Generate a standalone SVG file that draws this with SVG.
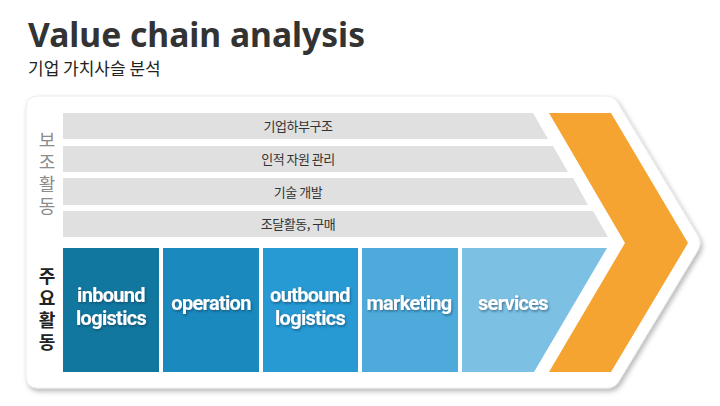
<svg xmlns="http://www.w3.org/2000/svg" width="720" height="406" viewBox="0 0 720 406">
<defs>
<filter id="sh" x="-10%" y="-10%" width="120%" height="130%">
<feDropShadow dx="2" dy="3" stdDeviation="2.5" flood-color="#000" flood-opacity="0.28"/>
</filter>
<filter id="ts" x="-10%" y="-20%" width="120%" height="150%">
<feDropShadow dx="1" dy="1.5" stdDeviation="1" flood-color="#0a3550" flood-opacity="0.55"/>
</filter>
<style>
.title{font-family:"Noto Sans","Open Sans",sans-serif;font-weight:700;fill:#333}
.sub{font-family:"Noto Sans CJK KR",sans-serif;fill:#222}
.bar{fill:#e0e0e0}
.bt{font-family:"Noto Sans CJK KR",sans-serif;font-size:13px;fill:#333;text-anchor:middle;letter-spacing:-0.5px}
.vg{font-family:"Noto Sans CJK KR",sans-serif;font-size:18px;fill:#8c8c8c;writing-mode:vertical-rl;letter-spacing:4px}
.vb{font-family:"Noto Sans CJK KR",sans-serif;font-size:18px;font-weight:700;fill:#222;writing-mode:vertical-rl;letter-spacing:4px}
.wt{font-family:Roboto,"Liberation Sans",sans-serif;font-weight:700;font-size:20px;fill:#fff;text-anchor:middle;letter-spacing:-0.7px}
</style>
</defs>
<rect width="720" height="406" fill="#fff"/>
<text class="title" x="28" y="47" font-size="34" textLength="337" lengthAdjust="spacingAndGlyphs">Value chain analysis</text>
<text class="sub" x="28" y="75" font-size="17">기업 가치사슬 분석</text>

<g id="frame">
<path d="M38,96 L606,96 Q614,96 618,103 L698,236 Q702,243 698,250 L619,381 Q615,388 607,388 L38,388 Q26,388 26,376 L26,108 Q26,96 38,96 Z" fill="#fff" stroke="#ececec" stroke-width="1" filter="url(#sh)"/>
</g>

<g id="support-label">
<text class="vg" x="47" y="131">보조활동</text>
</g>
<g id="primary-label">
<text class="vb" x="47" y="267">주요활동</text>
</g>

<g id="bar1"><polygon class="bar" points="63,113 533,113 548,139 63,139"/><text class="bt" x="298" y="131">기업하부구조</text></g>
<g id="bar2"><polygon class="bar" points="63,146 553,146 568,172 63,172"/><text class="bt" x="298" y="164">인적 자원 관리</text></g>
<g id="bar3"><polygon class="bar" points="63,178 573,178 588,205 63,205"/><text class="bt" x="298" y="197">기술 개발</text></g>
<g id="bar4"><polygon class="bar" points="63,211 593,211 608,237 63,237"/><text class="bt" x="298" y="229">조달활동, 구매</text></g>

<g id="margin"><polygon points="549,113 611,113 688,243 611,372 549,372 625,243" fill="#f6a431"/></g>

<g id="inbound"><rect x="63" y="248" width="96" height="124" fill="#12779f"/><text class="wt" x="111" y="301.5" filter="url(#ts)">inbound</text><text class="wt" x="111" y="325" filter="url(#ts)">logistics</text></g>
<g id="operation"><rect x="163" y="248" width="96" height="124" fill="#1a89be"/><text class="wt" x="211" y="310" filter="url(#ts)">operation</text></g>
<g id="outbound"><rect x="263" y="248" width="95" height="124" fill="#2799d3"/><text class="wt" x="310" y="301.5" filter="url(#ts)">outbound</text><text class="wt" x="310" y="325" filter="url(#ts)">logistics</text></g>
<g id="marketing"><rect x="362" y="248" width="96" height="124" fill="#4eaada"/><text class="wt" x="409" y="310" filter="url(#ts)">marketing</text></g>
<g id="services"><polygon points="462,248 607,248 534,372 462,372" fill="#7cc0e3"/><text class="wt" x="513" y="310" filter="url(#ts)">services</text></g>
<g id="connectors"/>
</svg>
